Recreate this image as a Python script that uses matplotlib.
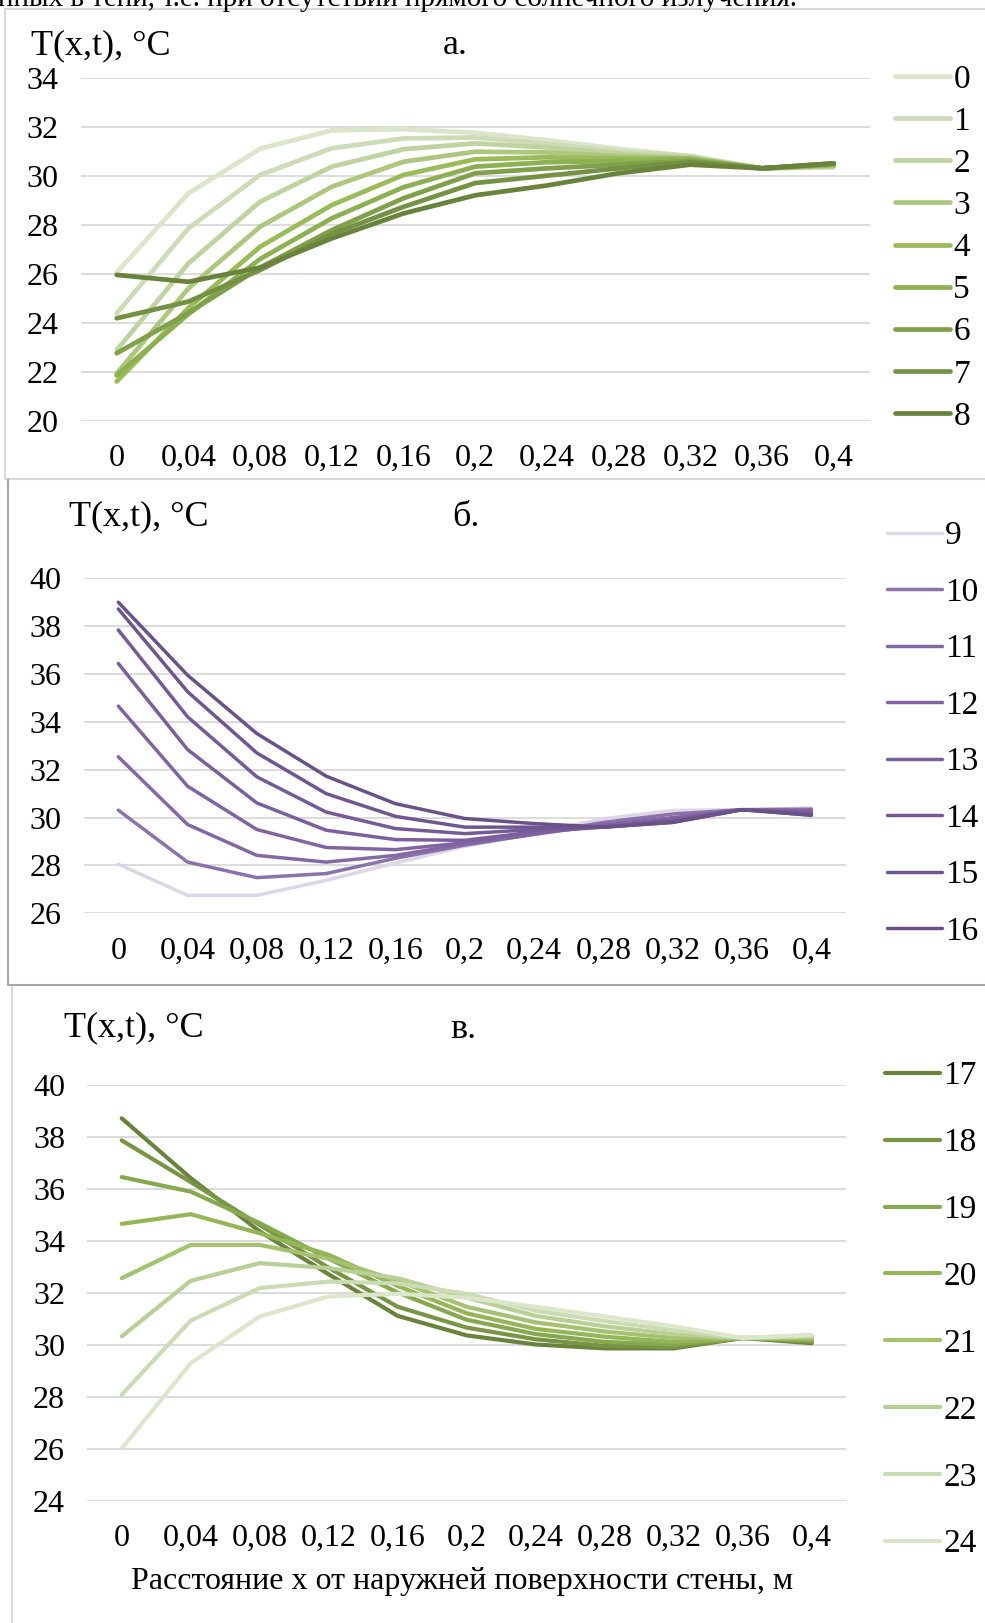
import matplotlib
matplotlib.use("Agg")
import matplotlib.pyplot as plt
from matplotlib.lines import Line2D

plt.rcParams['font.family'] = ['Liberation Serif', 'DejaVu Serif']

# x categories (distance from outer wall surface, m)
x_labels = ["0", "0,04", "0,08", "0,12", "0,16", "0,2", "0,24", "0,28", "0,32", "0,36", "0,4"]

# panel a: hours 0..8
hours_a = ["0", "1", "2", "3", "4", "5", "6", "7", "8"]
temps_a = [
    [26.05, 29.28, 31.10, 31.85, 31.90, 31.75, 31.45, 31.10, 30.80, 30.30, 30.35],
    [24.38, 27.85, 30.03, 31.12, 31.52, 31.56, 31.30, 31.00, 30.80, 30.30, 30.35],
    [22.88, 26.42, 28.94, 30.37, 31.08, 31.32, 31.15, 30.90, 30.75, 30.30, 30.40],
    [21.93, 25.40, 27.92, 29.55, 30.57, 30.98, 30.95, 30.80, 30.70, 30.30, 30.40],
    [21.60, 24.60, 27.10, 28.80, 30.03, 30.67, 30.75, 30.70, 30.70, 30.30, 30.45],
    [21.85, 24.35, 26.60, 28.26, 29.53, 30.37, 30.55, 30.60, 30.65, 30.30, 30.45],
    [22.75, 24.40, 26.25, 27.78, 29.08, 30.10, 30.30, 30.45, 30.60, 30.30, 30.50],
    [24.18, 24.86, 26.15, 27.62, 28.73, 29.70, 30.00, 30.30, 30.55, 30.30, 30.50],
    [25.95, 25.67, 26.25, 27.44, 28.46, 29.20, 29.60, 30.10, 30.45, 30.30, 30.50],
]
colors_a = ["#dae5ca", "#cddcb7", "#bfd3a0", "#adc77f", "#9bbb59",
            "#8db052", "#80a04b", "#759244", "#6a833c"]

# panel b: hours 9..16
hours_b = ["9", "10", "11", "12", "13", "14", "15", "16"]
temps_b = [
    [28.05, 26.75, 26.75, 27.38, 28.10, 28.80, 29.35, 29.95, 30.30, 30.33, 30.40],
    [30.31, 28.14, 27.49, 27.66, 28.30, 28.85, 29.30, 29.80, 30.15, 30.33, 30.35],
    [32.54, 29.71, 28.42, 28.14, 28.42, 28.90, 29.30, 29.70, 30.00, 30.33, 30.30],
    [34.66, 31.31, 29.50, 28.75, 28.66, 28.95, 29.35, 29.65, 29.95, 30.33, 30.25],
    [36.44, 32.84, 30.61, 29.47, 29.08, 29.05, 29.40, 29.60, 29.90, 30.33, 30.20],
    [37.84, 34.21, 31.70, 30.23, 29.54, 29.33, 29.50, 29.60, 29.85, 30.33, 30.15],
    [38.72, 35.26, 32.70, 31.00, 30.05, 29.60, 29.60, 29.60, 29.80, 30.33, 30.10],
    [39.00, 35.95, 33.51, 31.73, 30.58, 29.96, 29.75, 29.60, 29.80, 30.33, 30.10],
]
colors_b = ["#dcd6e6", "#8a72aa", "#8468a6", "#8064a2", "#7a5f9c",
            "#755b96", "#6f568f", "#695288"]

# panel c: hours 17..24
hours_c = ["17", "18", "19", "20", "21", "22", "23", "24"]
temps_c = [
    [38.70, 36.40, 34.35, 32.70, 31.10, 30.35, 30.00, 29.85, 29.85, 30.25, 30.05],
    [37.85, 36.25, 34.60, 32.95, 31.45, 30.65, 30.20, 29.95, 29.90, 30.25, 30.10],
    [36.44, 35.88, 34.67, 33.30, 32.00, 30.95, 30.40, 30.10, 30.00, 30.25, 30.15],
    [34.64, 35.01, 34.28, 33.45, 32.25, 31.20, 30.60, 30.30, 30.10, 30.25, 30.20],
    [32.55, 33.83, 33.83, 33.30, 32.45, 31.45, 30.85, 30.50, 30.25, 30.25, 30.25],
    [30.31, 32.45, 33.13, 32.94, 32.55, 31.80, 31.10, 30.70, 30.40, 30.25, 30.30],
    [28.07, 30.92, 32.17, 32.42, 32.35, 31.95, 31.30, 30.90, 30.55, 30.25, 30.35],
    [26.00, 29.28, 31.08, 31.85, 31.95, 31.80, 31.45, 31.08, 30.70, 30.25, 30.37],
]
colors_c = ["#6a833c", "#789546", "#86a84f", "#94b656", "#a4c26f",
            "#b8cf95", "#cbdbb3", "#dbe6cb"]

W, H = 985, 1623
fig = plt.figure(figsize=(W / 100, H / 100), dpi=100)


def fx(px):
    return px / W


def fy(py):
    return 1 - py / H


def panel(rect_px, temps, names, colors, lw, ylim, yticks, leg_x, leg_y, leg_space):
    left, top, right, bottom = rect_px
    ax = fig.add_axes([fx(left), fy(bottom), (right - left) / W, (bottom - top) / H])
    xs = range(len(x_labels))
    for vals, name, c in zip(temps, names, colors):
        ax.plot(xs, vals, color=c, lw=lw, label=name,
                solid_capstyle='round', solid_joinstyle='round')
    ax.set_xlim(-0.5, len(x_labels) - 0.5)
    ax.set_ylim(*ylim)
    ax.set_yticks(yticks)
    ax.set_xticks(list(xs))
    ax.set_xticklabels(x_labels)
    ax.yaxis.grid(True, color='#d9d9d9', lw=1.3)
    ax.set_axisbelow(True)
    for s in ax.spines.values():
        s.set_visible(False)
    ax.tick_params(length=0, labelsize=23)
    ax.tick_params(axis='y', pad=16)
    ax.tick_params(axis='x', pad=17)
    ax.legend(loc='upper left', bbox_to_anchor=(fx(leg_x), fy(leg_y)),
              bbox_transform=fig.transFigure, frameon=False, fontsize=24,
              handlelength=1.65, handletextpad=0.1, labelspacing=leg_space,
              borderpad=0, borderaxespad=0)
    return ax


panel((80.85, 77.7, 869.5, 420.7), temps_a, hours_a, colors_a, 3.4,
      (20, 34), range(20, 35, 2), 895, 64, 0.35)
panel((83.65, 578.3, 846.0, 913.3), temps_b, hours_b, colors_b, 2.5,
      (26, 40), range(26, 41, 2), 886.7, 521, 0.78)
panel((87.2, 1084.5, 846.2, 1500.5), temps_c, hours_c, colors_c, 3.0,
      (24, 40), range(24, 41, 2), 885, 1061, 1.09)

# axis captions and panel letters
fig.text(fx(31), fy(46), "T(x,t), °C", fontsize=26, va='center')
fig.text(fx(455), fy(46), "а.", fontsize=26, va='center', ha='center')
fig.text(fx(69), fy(517), "T(x,t), °C", fontsize=26, va='center')
fig.text(fx(466), fy(517), "б.", fontsize=26, va='center', ha='center')
fig.text(fx(64), fy(1028), "T(x,t), °C", fontsize=26, va='center')
fig.text(fx(463), fy(1029), "в.", fontsize=26, va='center', ha='center')
fig.text(fx(462), fy(1582), "Расстояние х от наружней поверхности стены, м",
         fontsize=23, va='center', ha='center')

# cut-off line of document text at the very top
fig.text(fx(-2), fy(6), "нных в тени, т.е. при отсутствии прямого солнечного излучения.",
         fontsize=21, va='baseline')

# panel frames
fig.add_artist(Line2D([fx(5), fx(5), fx(990)], [fy(479), fy(9), fy(9)],
                      transform=fig.transFigure, color='#d9d9d9', lw=1.5))
fig.add_artist(Line2D([fx(5), fx(990)], [fy(479), fy(479)],
                      transform=fig.transFigure, color='#d9d9d9', lw=1.5))
fig.add_artist(Line2D([fx(8), fx(8), fx(990)], [fy(480), fy(985), fy(985)],
                      transform=fig.transFigure, color='#a6a6a6', lw=1.5))
fig.add_artist(Line2D([fx(12), fx(12)], [fy(987), fy(1630)],
                      transform=fig.transFigure, color='#d9d9d9', lw=1.5))

fig.savefig("out.png", dpi=100)
